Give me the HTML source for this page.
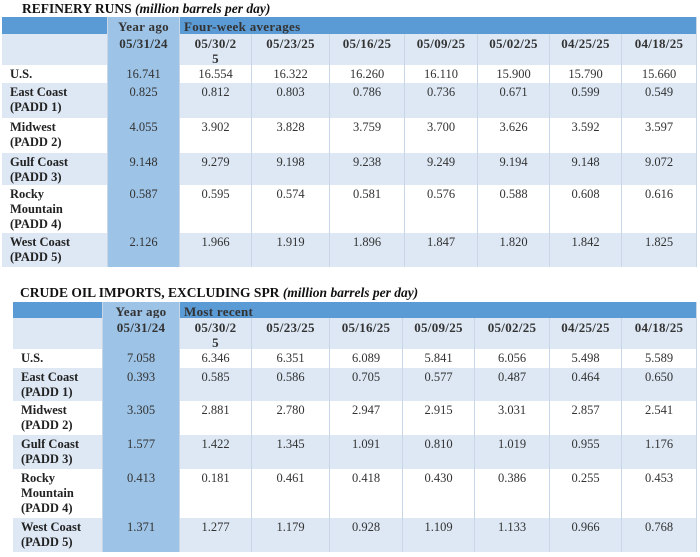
<!DOCTYPE html>
<html><head><meta charset="utf-8"><style>
body{margin:0;width:700px;height:557px;background:#fff;position:relative;overflow:hidden;font-family:"Liberation Serif",serif;}
.t{position:absolute;font-weight:bold;font-size:13.5px;color:#111;white-space:nowrap}
.c{position:absolute;box-sizing:border-box;font-size:12.5px;color:#333;text-align:center;padding-top:2px;line-height:15px;border-right:1px solid #c8d6e6}
.lab{text-align:left;font-weight:bold;color:#222;padding-left:8px}
.hd{font-weight:bold;color:#333;font-size:13px;letter-spacing:0.3px}
</style></head><body>
<div class="t" style="left:22px;top:1px">REFINERY RUNS <i>(million barrels per day)</i></div>
<div class="t" style="left:20px;top:285px">CRUDE OIL IMPORTS, EXCLUDING SPR <i>(million barrels per day)</i></div>
<div id="root"></div>
<script>
const dates=["05/31/24","05/30/2<br>5","05/23/25","05/16/25","05/09/25","05/02/25","04/25/25","04/18/25"];
const regions=["U.S.","East Coast<br>(PADD 1)","Midwest<br>(PADD 2)","Gulf Coast<br>(PADD 3)","Rocky<br>Mountain<br>(PADD 4)","West Coast<br>(PADD 5)"];
const runs=[["16.741","16.554","16.322","16.260","16.110","15.900","15.790","15.660"],
["0.825","0.812","0.803","0.786","0.736","0.671","0.599","0.549"],
["4.055","3.902","3.828","3.759","3.700","3.626","3.592","3.597"],
["9.148","9.279","9.198","9.238","9.249","9.194","9.148","9.072"],
["0.587","0.595","0.574","0.581","0.576","0.588","0.608","0.616"],
["2.126","1.966","1.919","1.896","1.847","1.820","1.842","1.825"]];
const imports=[["7.058","6.346","6.351","6.089","5.841","6.056","5.498","5.589"],
["0.393","0.585","0.586","0.705","0.577","0.487","0.464","0.650"],
["3.305","2.881","2.780","2.947","2.915","3.031","2.857","2.541"],
["1.577","1.422","1.345","1.091","0.810","1.019","0.955","1.176"],
["0.413","0.181","0.461","0.418","0.430","0.386","0.255","0.453"],
["1.371","1.277","1.179","0.928","1.109","1.133","0.966","0.768"]];
const root=document.getElementById('root');
function cell(x,y,w,h,html,bg,cls,name){
 const d=document.createElement('div');
 d.className='c '+(cls||'');
 d.style.cssText=`left:${x}px;top:${y}px;width:${w}px;height:${h}px;background:${bg}`;
 d.innerHTML=html;
 
 
 root.appendChild(d);
}
function table(pre,x0,top,colX,rowY,vals,sub){
 const B='#5b9bd5',Y='#9dc3e6',L='#dde8f4';
 const right=697;
 cell(x0,top,colX[0]-x0,rowY[0]-top,'',B,'',pre+'header-blank');
 cell(colX[0],top,colX[1]-colX[0],rowY[0]-top,'Year ago',Y,'hd',pre+'year-ago-header');
 cell(colX[1],top,right-colX[1],rowY[0]-top,'<div style="text-align:left;padding-left:4px">'+sub+'</div>',B,'hd',pre+'group-header');
 const xs=colX.concat([right]);
 cell(x0,rowY[0],colX[0]-x0,rowY[1]-rowY[0],'',L,'',pre+'date-blank');
 for(let j=0;j<dates.length;j++){
  cell(xs[j],rowY[0],xs[j+1]-xs[j],rowY[1]-rowY[0],dates[j],j==0?Y:L,'hd',pre+'date-'+j);
 }
 for(let i=0;i<regions.length;i++){
  const y=rowY[i+1],h=rowY[i+2]-rowY[i+1],bg=i%2?L:'#fff';
  cell(x0,y,colX[0]-x0,h,regions[i],bg,'lab',pre+'row-label-'+i);
  for(let j=0;j<dates.length;j++){
   cell(xs[j],y,xs[j+1]-xs[j],h,vals[i][j],j==0?Y:bg,'',pre+'value-'+i+'-'+j);
  }
 }
}
table('runs-',2,17,[108,180,252,330,405,478,550,622],[34,65,83,118,153,185,233,267],runs,'Four-week averages');
table('imports-',13,302,[103,180,252,330,403,475,550,622],[318,349,368,401,435,469,518,552],imports,'Most recent');
</script>
</body></html>
